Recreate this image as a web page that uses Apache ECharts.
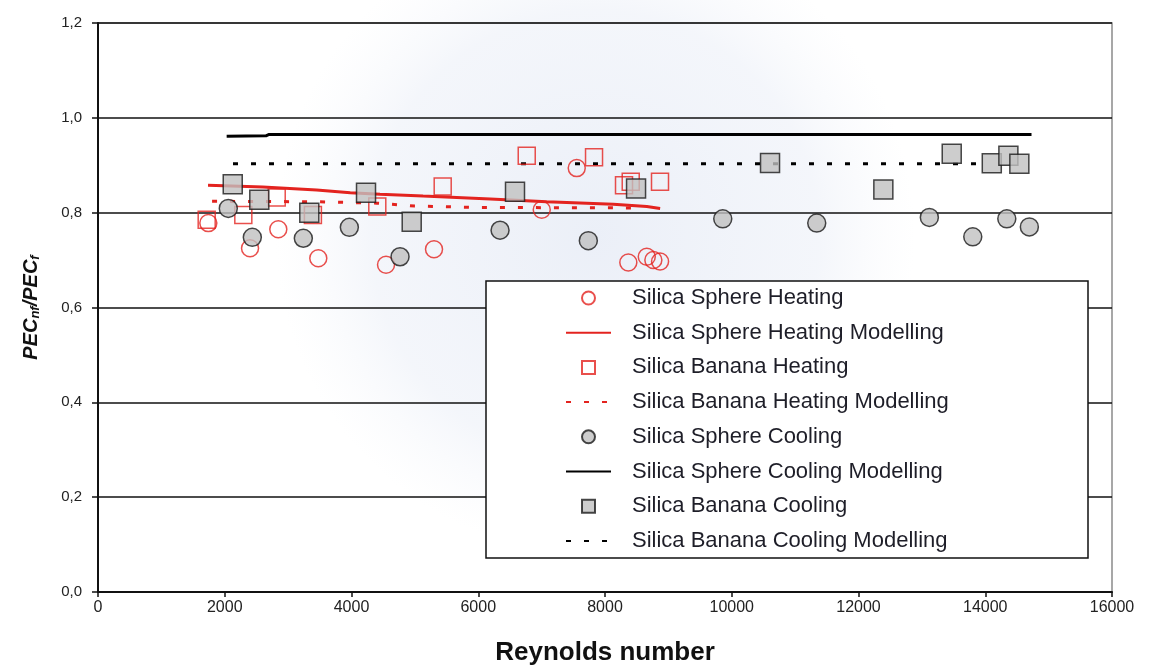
<!DOCTYPE html>
<html>
<head>
<meta charset="utf-8">
<script src="https://cdn.jsdelivr.net/npm/echarts@6/dist/echarts.min.js"></script>
<style>
  html, body { margin: 0; padding: 0; background: #ffffff; }
  #chart { width: 1149px; height: 668px; }
</style>
</head>
<body>
<div id="chart"></div>
<script>
// Measured points: [Reynolds number, PEC_nf / PEC_f]
const sphereHeating = [
  [1741, 0.778], [2399, 0.725], [2845, 0.765], [3476, 0.704], [4545, 0.690],
  [5302, 0.723], [7002, 0.806], [7554, 0.894], [8368, 0.695], [8659, 0.707],
  [8763, 0.700], [8869, 0.697]
];
const bananaHeating = [
  [1715, 0.785], [2293, 0.795], [2820, 0.832], [3391, 0.795], [4407, 0.813],
  [5439, 0.855], [6765, 0.920], [7827, 0.917], [8300, 0.858], [8406, 0.865],
  [8868, 0.865]
];
const sphereCooling = [
  [2056, 0.809], [2435, 0.748], [3240, 0.746], [3966, 0.769], [4766, 0.707],
  [6344, 0.763], [7737, 0.741], [9858, 0.787], [11341, 0.778], [13118, 0.790],
  [13803, 0.749], [14340, 0.787], [14696, 0.770]
];
const bananaCooling = [
  [2126, 0.860], [2545, 0.827], [3334, 0.800], [4229, 0.842], [4950, 0.781],
  [6580, 0.844], [8490, 0.851], [10604, 0.905], [12392, 0.849], [13471, 0.924],
  [14103, 0.904], [14365, 0.920], [14538, 0.903]
];

// Model curves
const sphereHeatingModel = [
  [1736, 0.858], [2600, 0.854], [3450, 0.848], [3980, 0.842], [4450, 0.839],
  [5130, 0.835], [5660, 0.832], [6190, 0.829], [7080, 0.823], [8130, 0.818],
  [8660, 0.813], [8870, 0.809]
];
const bananaHeatingModel = [
  [1800, 0.824], [3500, 0.823], [4400, 0.820], [5000, 0.814], [6000, 0.811], [8500, 0.810]
];
const sphereCoolingModel = [
  [2030, 0.961], [2650, 0.962], [2700, 0.965], [14730, 0.965]
];
const bananaCoolingModel = [
  [2130, 0.903], [13900, 0.903]
];

const seriesNames = [
  'Silica Sphere Heating',
  'Silica Sphere Heating Modelling',
  'Silica Banana Heating',
  'Silica Banana Heating Modelling',
  'Silica Sphere Cooling',
  'Silica Sphere Cooling Modelling',
  'Silica Banana Cooling',
  'Silica Banana Cooling Modelling'
];

// Axis ranges
const xMin = 0, xMax = 16000, xStep = 2000;
const yMin = 0, yMax = 1.2, yStep = 0.2;

const RED = '#e3231f';
const FONT = '"Liberation Sans", Arial, sans-serif';
const SQUARE = 'path://M0 0H10V10H0Z';

const chart = echarts.init(document.getElementById('chart'), null, { renderer: 'canvas' });

function markerSeries(name, data, symbol, size, style, z) {
  return {
    name, type: 'scatter', data, symbol, symbolSize: size, z,
    symbolKeepAspect: true,
    itemStyle: style
  };
}
function modelSeries(name, data, color, width, type, z) {
  return {
    name, type: 'line', data, symbol: 'none', z,
    lineStyle: { color, width, type },
    itemStyle: { color }
  };
}

// Legend entries: squares keep their aspect, model lines show only the stroke
const legendData = seriesNames.map((name, i) => {
  const item = { name };
  if (i === 2 || i === 6) item.icon = SQUARE;
  if (i % 2 === 1) item.itemStyle = { opacity: 0 };
  return item;
});

chart.setOption({
  animation: false,
  backgroundColor: '#ffffff',
  textStyle: { fontFamily: FONT },
  graphic: [{
    type: 'circle',
    z: -100,
    silent: true,
    shape: { cx: 595, cy: 235, r: 320 },
    style: {
      fill: {
        type: 'radial', x: 0.5, y: 0.5, r: 0.5,
        colorStops: [
          { offset: 0, color: 'rgba(205,215,236,0.40)' },
          { offset: 0.7, color: 'rgba(215,223,240,0.28)' },
          { offset: 1, color: 'rgba(230,235,245,0)' }
        ]
      }
    }
  }, {
    // legend frame
    type: 'rect',
    z: 9,
    silent: true,
    shape: { x: 486, y: 281, width: 602, height: 277 },
    style: { fill: '#ffffff', stroke: '#111111', lineWidth: 1.5 }
  }],
  grid: {
    left: 98, right: 37, top: 23, bottom: 76,
    outerBoundsMode: 'none',
    show: true, borderColor: '#8a8a8a', borderWidth: 1.5,
    backgroundColor: 'transparent'
  },
  legend: {
    orient: 'vertical',
    left: 486, top: 281,
    z: 10,
    padding: [6, 0, 6, 79],
    itemWidth: 45,
    itemHeight: 13,
    itemGap: 12.7,
    data: legendData,
    textStyle: {
      fontFamily: FONT, fontSize: 22, color: '#1e1e28', letterSpacing: 1.7,
      lineHeight: 22, padding: [0, 0, 0, 16]
    }
  },
  xAxis: {
    type: 'value', min: xMin, max: xMax, interval: xStep,
    name: 'Reynolds number', nameLocation: 'middle', nameGap: 48,
    nameTextStyle: { fontFamily: FONT, fontSize: 26, fontWeight: 'bold', color: '#111111' },
    axisLine: { lineStyle: { color: '#111111', width: 2 } },
    axisTick: { show: true, inside: false, length: 5, lineStyle: { color: '#111111', width: 1.5 } },
    axisLabel: {
      fontFamily: FONT, fontSize: 16, color: '#222222', margin: 8, letterSpacing: 0.8,
      formatter: v => String(v)
    },
    splitLine: { show: false }
  },
  yAxis: {
    type: 'value', min: yMin, max: yMax, interval: yStep,
    name: 'PEC{sub|nf}/PEC{sub|f}', nameLocation: 'middle', nameGap: 56,
    nameTextStyle: {
      fontFamily: FONT, fontSize: 20, fontWeight: 'bold', fontStyle: 'italic', color: '#111111',
      rich: {
        sub: { fontFamily: FONT, fontSize: 13, fontWeight: 'bold', fontStyle: 'italic', color: '#111111', verticalAlign: 'bottom', padding: [8, 0, 0, 0] }
      }
    },
    axisLine: { lineStyle: { color: '#111111', width: 2 } },
    axisTick: { show: true, inside: false, length: 6, lineStyle: { color: '#111111', width: 1.5 } },
    axisLabel: {
      fontFamily: FONT, fontSize: 15, color: '#222222', margin: 16,
      formatter: v => v.toFixed(1).replace('.', ',')
    },
    splitLine: { show: true, lineStyle: { color: '#111111', width: 1.5 } }
  },
  series: [
    markerSeries(seriesNames[0], sphereHeating, 'circle', 17,
      { color: 'rgba(255,255,255,0)', borderColor: RED, borderWidth: 1.5 }, 5),
    modelSeries(seriesNames[1], sphereHeatingModel, RED, 3, 'solid', 4),
    markerSeries(seriesNames[2], bananaHeating, 'rect', 17,
      { color: 'rgba(255,255,255,0)', borderColor: RED, borderWidth: 1.5 }, 5),
    modelSeries(seriesNames[3], bananaHeatingModel, RED, 3, [5, 13], 4),
    markerSeries(seriesNames[4], sphereCooling, 'circle', 18,
      { color: '#c0c0c0', borderColor: '#1a1a1a', borderWidth: 1.5 }, 6),
    modelSeries(seriesNames[5], sphereCoolingModel, '#000000', 3, 'solid', 3),
    markerSeries(seriesNames[6], bananaCooling, 'rect', 19,
      { color: '#c0c0c0', borderColor: '#1a1a1a', borderWidth: 1.5 }, 6),
    modelSeries(seriesNames[7], bananaCoolingModel, '#000000', 3, [5, 13], 3)
  ]
});
</script>
</body>
</html>
